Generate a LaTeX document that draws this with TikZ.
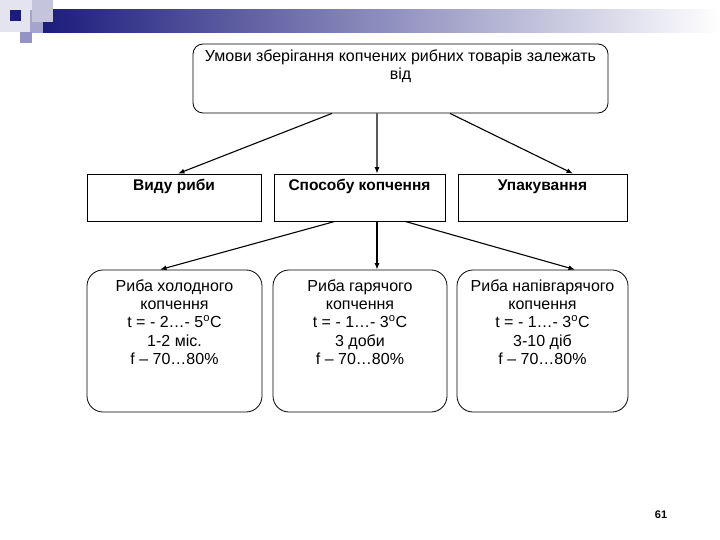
\documentclass[tikz,border=0pt]{standalone}
\usepackage{fontspec}
\setmainfont{Liberation Sans}
\usetikzlibrary{arrows.meta,positioning}
\definecolor{SlideNavy}{HTML}{1C1C7C}
\definecolor{SlidePale}{HTML}{E4E4F0}
\definecolor{SlideLilac}{HTML}{C4C4DC}
\definecolor{SlideMauve}{HTML}{9494C4}
\definecolor{SlideMid}{HTML}{A4A4CC}
\tikzset{
  rootBox/.style={draw=black, line width=0.8pt, rounded corners=10bp, minimum width=415bp, minimum height=69bp, inner sep=0pt},
  factorBox/.style={draw=black, line width=0.8pt, minimum height=47bp, inner sep=0pt},
  fishBox/.style={draw=black, line width=0.8pt, rounded corners=16bp, minimum height=142bp, inner sep=0pt},
  boxText/.style={anchor=north, inner sep=0pt, align=center, font=\fontsize{16bp}{18.2bp}\selectfont},
  factorText/.style={boxText, text height=11.5bp, font=\fontsize{15.5bp}{18bp}\selectfont\bfseries},
  link/.style={-{Latex[length=6.5bp, width=5bp]}, line width=1.1pt}
}

\begin{document}
\begin{tikzpicture}[x=1bp, y=-1bp]
  \useasboundingbox (0,0) rectangle (720,540);

  % Slide header
  \fill[SlidePale] (0,0) rectangle (32,32);
  \shade[left color=SlideNavy, right color=white] (43,10) rectangle (720,33);
  \fill[SlideMid] (30,10) rectangle (43,33);
  \fill[SlideLilac] (32,0) rectangle (53,22);
  \fill[SlideNavy] (10,10) rectangle (21,21);
  \fill[SlideMauve] (20,32) rectangle (32,43);

  % Root
  \node[rootBox, label={[boxText, yshift=-6bp]north:{Умови зберігання копчених рибних товарів залежать\\від}}] (cond) at (400.5,78.5) {};

  % Factors
  \node[factorBox, minimum width=174bp, label={[factorText, yshift=-5bp]north:{Виду риби}}] (kind) at (174,197.5) {};
  \node[factorBox, minimum width=171bp, label={[factorText, yshift=-5bp]north:{Способу копчення}}] (method) at (359.5,197.5) {};
  \node[factorBox, minimum width=169bp, label={[factorText, yshift=-5bp]north:{Упакування}}] (pack) at (542.5,197.5) {};

  % Smoking kinds
  \node[fishBox, minimum width=175bp, label={[boxText, yshift=-10bp]north:{Риба холодного\\копчення\\t = - 2…- 5\textsuperscript{o}C\\1-2 міс.\\f – 70…80\%}}] (cold) at (174.5,341) {};
  \node[fishBox, minimum width=174bp, label={[boxText, yshift=-10bp]north:{Риба гарячого\\копчення\\t = - 1…- 3\textsuperscript{o}C\\3 доби\\f – 70…80\%}}] (hot) at (360,341) {};
  \node[fishBox, minimum width=171bp, label={[boxText, yshift=-10bp]north:{Риба напівгарячого\\копчення\\t = - 1…- 3\textsuperscript{o}C\\3-10 діб\\f – 70…80\%}}] (semi) at (542.5,341) {};

  % Arrows
  \draw[link] ([xshift=-68.5bp]cond.south) -- ([xshift=4bp]kind.north);
  \draw[link] ([xshift=-23.5bp]cond.south) -- ([xshift=17.5bp]method.north);
  \draw[link] ([xshift=49.5bp]cond.south) -- ([xshift=30.5bp]pack.north);

  \draw[link] ([xshift=-24.5bp]method.south) -- ([xshift=-14.5bp]cold.north);
  \draw[link] ([xshift=17.5bp]method.south) -- ([xshift=17bp]hot.north);
  \draw[link] ([xshift=45.5bp]method.south) -- ([xshift=32.5bp]semi.north);

  % Page number
  \node[font=\fontsize{11bp}{13bp}\selectfont\bfseries] (pageno) at (661,515) {61};
\end{tikzpicture}
\end{document}
